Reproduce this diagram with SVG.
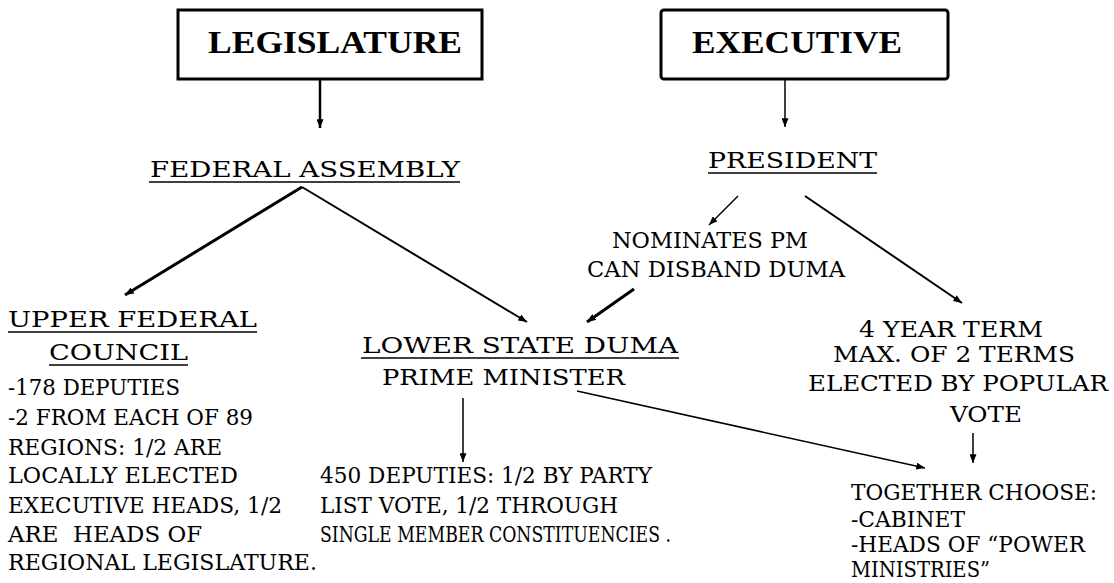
<svg xmlns="http://www.w3.org/2000/svg" width="1114" height="583" viewBox="0 0 1114 583">
<style>
.bg{fill:#fff}
.box{fill:#fff;stroke:#000;stroke-width:3}
.title{font-family:"Liberation Serif","Times New Roman",serif;font-weight:bold;font-size:32px;fill:#000}
.t{font-family:"DejaVu Serif",serif;font-size:23px;fill:#000}
.ul{stroke:#000;stroke-width:1.5}
.c{fill:none;stroke:#000}
</style>
<defs>
<marker id="ah" viewBox="0 0 10 8" refX="10" refY="4" markerWidth="9" markerHeight="7" orient="auto" markerUnits="userSpaceOnUse">
<path d="M0,0 L10,4 L0,8 z" fill="#000"/>
</marker>
</defs>
<rect class="bg" x="0" y="0" width="1114" height="583"/>
<g id="legislature">
<rect class="box" x="178" y="10" width="304" height="69"/>
<text class="title" x="208" y="53" textLength="254" lengthAdjust="spacingAndGlyphs">LEGISLATURE</text>
</g>
<g id="executive">
<rect class="box" x="661" y="10" width="287" height="69" rx="3"/>
<text class="title" x="692" y="53" textLength="210" lengthAdjust="spacingAndGlyphs">EXECUTIVE</text>
</g>
<g id="federal-assembly">
<text class="t" x="150" y="177" textLength="310" lengthAdjust="spacingAndGlyphs">FEDERAL ASSEMBLY</text>
<line class="ul" x1="149" y1="182" x2="460" y2="182"/>
</g>
<g id="president">
<text class="t" x="708" y="168" textLength="169" lengthAdjust="spacingAndGlyphs">PRESIDENT</text>
<line class="ul" x1="708" y1="173" x2="877" y2="173"/>
</g>
<g id="nominates">
<text class="t" x="612" y="248" textLength="196" lengthAdjust="spacingAndGlyphs">NOMINATES PM</text>
<text class="t" x="587" y="277" textLength="258" lengthAdjust="spacingAndGlyphs">CAN DISBAND DUMA</text>
</g>
<g id="upper-council">
<text class="t" x="8" y="327" textLength="249" lengthAdjust="spacingAndGlyphs">UPPER FEDERAL</text>
<line class="ul" x1="8" y1="332" x2="257" y2="332"/>
<text class="t" x="49" y="360" textLength="139" lengthAdjust="spacingAndGlyphs">COUNCIL</text>
<line class="ul" x1="49" y1="365" x2="188" y2="365"/>
<text class="t" x="8" y="395" textLength="172" lengthAdjust="spacingAndGlyphs">-178 DEPUTIES</text>
<text class="t" x="8" y="425" textLength="245" lengthAdjust="spacingAndGlyphs">-2 FROM EACH OF 89</text>
<text class="t" x="8" y="455" textLength="214" lengthAdjust="spacingAndGlyphs">REGIONS: 1/2 ARE</text>
<text class="t" x="8" y="483" textLength="230" lengthAdjust="spacingAndGlyphs">LOCALLY ELECTED</text>
<text class="t" x="8" y="513" textLength="274" lengthAdjust="spacingAndGlyphs">EXECUTIVE HEADS, 1/2</text>
<text class="t" x="8" y="542" textLength="194" lengthAdjust="spacingAndGlyphs" xml:space="preserve">ARE  HEADS OF</text>
<text class="t" x="8" y="570" textLength="309" lengthAdjust="spacingAndGlyphs">REGIONAL LEGISLATURE.</text>
</g>
<g id="lower-duma">
<text class="t" x="362" y="353" textLength="316" lengthAdjust="spacingAndGlyphs">LOWER STATE DUMA</text>
<line class="ul" x1="361" y1="358" x2="679" y2="358"/>
<text class="t" x="382" y="385" textLength="243" lengthAdjust="spacingAndGlyphs">PRIME MINISTER</text>
</g>
<g id="deputies">
<text class="t" x="320" y="483" textLength="332" lengthAdjust="spacingAndGlyphs">450 DEPUTIES: 1/2 BY PARTY</text>
<text class="t" x="320" y="513" textLength="298" lengthAdjust="spacingAndGlyphs">LIST VOTE, 1/2 THROUGH</text>
<text class="t" x="320" y="542" textLength="351" lengthAdjust="spacingAndGlyphs">SINGLE MEMBER CONSTITUENCIES .</text>
</g>
<g id="term">
<text class="t" x="859" y="337" textLength="184" lengthAdjust="spacingAndGlyphs">4 YEAR TERM</text>
<text class="t" x="833" y="362" textLength="242" lengthAdjust="spacingAndGlyphs">MAX. OF 2 TERMS</text>
<text class="t" x="808" y="391" textLength="300" lengthAdjust="spacingAndGlyphs">ELECTED BY POPULAR</text>
<text class="t" x="950" y="422" textLength="72" lengthAdjust="spacingAndGlyphs">VOTE</text>
</g>
<g id="together">
<text class="t" x="851" y="500" textLength="246" lengthAdjust="spacingAndGlyphs">TOGETHER CHOOSE:</text>
<text class="t" x="851" y="527" textLength="114" lengthAdjust="spacingAndGlyphs">-CABINET</text>
<text class="t" x="851" y="552" textLength="234" lengthAdjust="spacingAndGlyphs">-HEADS OF “POWER</text>
<text class="t" x="851" y="577" textLength="139" lengthAdjust="spacingAndGlyphs">MINISTRIES”</text>
</g>
<g id="connectors">
<line class="c" x1="320" y1="80" x2="320" y2="128" stroke-width="2.5" marker-end="url(#ah)"/>
<line class="c" x1="785" y1="80" x2="785" y2="127" stroke-width="1.5" marker-end="url(#ah)"/>
<line class="c" x1="302" y1="187" x2="125" y2="295" stroke-width="3" marker-end="url(#ah)"/>
<line class="c" x1="302" y1="187" x2="527" y2="322" stroke-width="2" marker-end="url(#ah)"/>
<line class="c" x1="738" y1="196" x2="709" y2="225" stroke-width="1.5" marker-end="url(#ah)"/>
<line class="c" x1="805" y1="196" x2="962" y2="303" stroke-width="2" marker-end="url(#ah)"/>
<line class="c" x1="634" y1="289" x2="587" y2="322" stroke-width="3" marker-end="url(#ah)"/>
<line class="c" x1="463" y1="398" x2="463" y2="462" stroke-width="1.5" marker-end="url(#ah)"/>
<line class="c" x1="577" y1="391" x2="925" y2="468" stroke-width="1.5" marker-end="url(#ah)"/>
<line class="c" x1="973" y1="433" x2="973" y2="463" stroke-width="1.5" marker-end="url(#ah)"/>
</g>
</svg>
